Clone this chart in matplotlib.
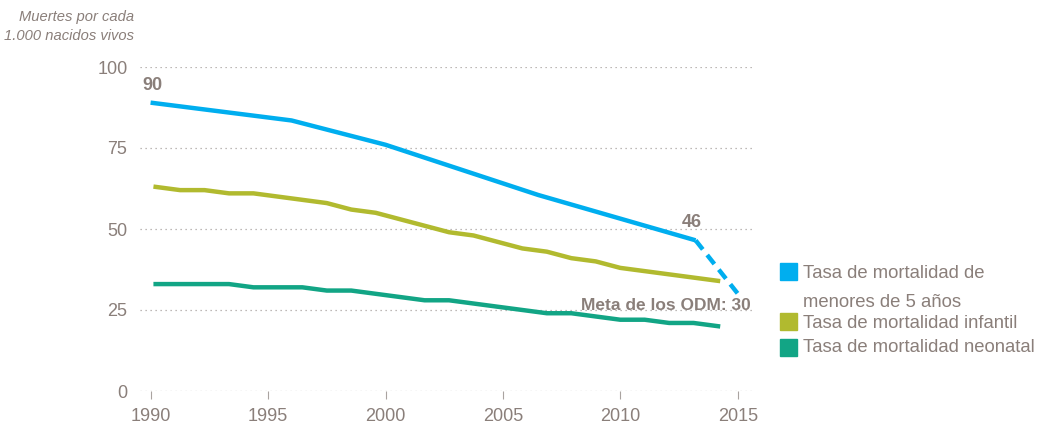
import matplotlib
matplotlib.use("Agg")
import matplotlib.pyplot as plt
from matplotlib.patches import Rectangle

plt.rcParams['font.family'] = ['Liberation Sans', 'DejaVu Sans']

# datos
years_u5 = [1990, 1996, 2000, 2006.5, 2013.2]
u5 = [89, 83.5, 76, 60.5, 46.5]
years_goal = [2013.2, 2015]
u5_goal = [46.5, 30]

years = list(range(1990, 2014))
infantil = [63, 62, 62, 61, 61, 60, 59, 58, 56, 55, 53, 51, 49, 48, 46, 44, 43, 41, 40, 38, 37, 36, 35, 34]
neonatal = [33, 33, 33, 33, 32, 32, 32, 31, 31, 30, 29, 28, 28, 27, 26, 25, 24, 24, 23, 22, 22, 21, 21, 20]

yticks = [0, 25, 50, 75, 100]
xticks = [1990, 1995, 2000, 2005, 2010, 2015]
legend_labels = ["Tasa de mortalidad de\nmenores de 5 años", "Tasa de mortalidad infantil", "Tasa de mortalidad neonatal"]

c_blue = "#00aeef"
c_yel = "#b1ba2f"
c_grn = "#12a585"
c_txt = "#8a7f7a"

fig = plt.figure(figsize=(10.39, 4.28), dpi=100)
ax = fig.add_axes([140/1039, 37/428, 612/1039, 324/428])
ax.set_xlim(1989.55, 2015.6)
ax.set_ylim(0, 100)

for v in yticks:
    ax.axhline(v, color="#a9a3a0", lw=0.9, ls=(0, (1, 3)), zorder=1)

for s in ax.spines.values():
    s.set_visible(False)
ax.set_yticks(yticks)
ax.set_xticks(xticks)
ax.tick_params(axis='y', length=0, pad=9, labelsize=13, labelcolor=c_txt)
ax.tick_params(axis='x', length=6, width=0.8, color="#a9a3a0", pad=6, labelsize=13, labelcolor=c_txt)

# menores de 5 años (escala de años)
ax.plot(years_u5, u5, color=c_blue, lw=3.2, solid_capstyle='butt', zorder=3)
ax.plot(years_goal, u5_goal, color=c_blue, lw=3.2, ls=(0, (2.6, 1.6)), zorder=3)

# infantil y neonatal (trazadas en su propia escala, como en el original)
ax2 = ax.twiny()
ax2.set_xlim(1989.36, 2014.39)
ax2.set_ylim(0, 100)
ax2.axis('off')
ax2.plot(years, infantil, color=c_yel, lw=3.2, zorder=3)
ax2.plot(years, neonatal, color=c_grn, lw=3.2, zorder=3)

ax.annotate("90", (years_u5[0], u5[0]), xytext=(1, 12), textcoords='offset points',
            ha='center', va='center', fontsize=13, fontweight='bold', color=c_txt)
ax.annotate("46", (years_u5[-1], u5[-1]), xytext=(-3, 13), textcoords='offset points',
            ha='center', va='center', fontsize=13, fontweight='bold', color=c_txt)
ax.annotate("Meta de los ODM: 30", (years_goal[-1], u5_goal[-1]), xytext=(9.5, -8.5),
            textcoords='offset points', ha='right', va='center', fontsize=12.5,
            fontweight='bold', color=c_txt)

fig.text(134/1039, 1 - 26.5/428, "Muertes por cada\n1.000 nacidos vivos", ha='right', va='center',
         fontsize=10.6, style='italic', color=c_txt, linespacing=1.45)

# leyenda
leg_y = [271, 321, 347]
text_y = [288, 323, 348]
for col, lab, y, ty in zip([c_blue, c_yel, c_grn], legend_labels, leg_y, text_y):
    fig.patches.append(Rectangle((780/1039, 1 - (y + 9)/428), 17/1039, 17/428,
                                 transform=fig.transFigure, color=col))
    fig.text(803/1039, 1 - ty/428, lab, ha='left', va='center',
             fontsize=13.3, color=c_txt, linespacing=1.95)

fig.savefig("out.png", dpi=100)
